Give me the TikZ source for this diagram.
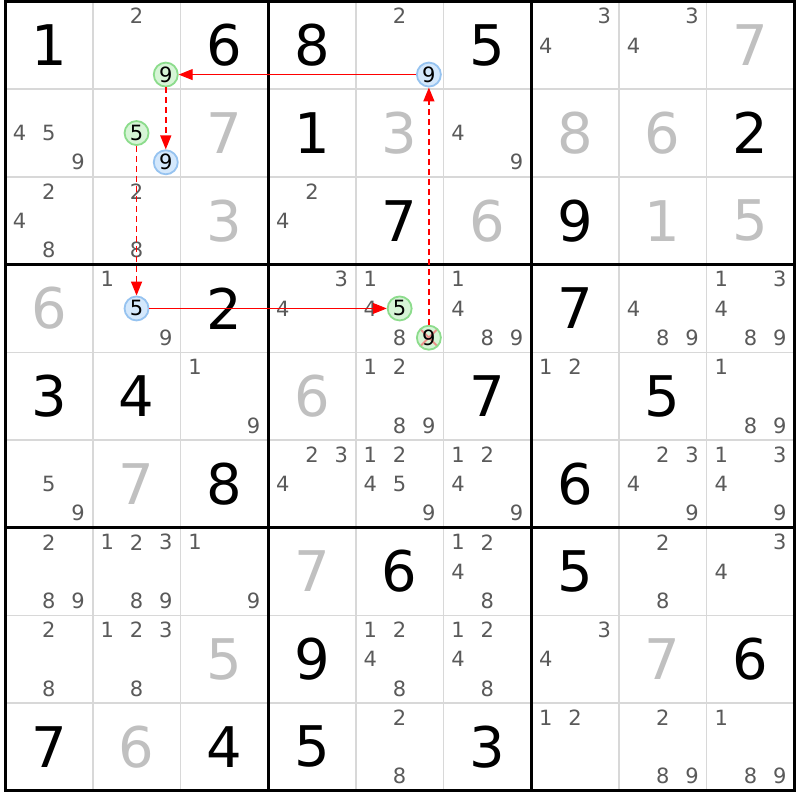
\documentclass[tikz,border=0pt]{standalone}
\usepackage{fontspec}
\setmainfont{DejaVu Sans}
\usetikzlibrary{arrows.meta}
\definecolor{solvedgray}{RGB}{192,192,192}
\definecolor{candgray}{RGB}{90,90,90}
\definecolor{gridgray}{RGB}{216,216,216}
\definecolor{bfill}{RGB}{212,232,252}
\definecolor{bline}{RGB}{150,195,240}
\definecolor{gfill}{RGB}{214,245,214}
\definecolor{gline}{RGB}{140,220,140}
\definecolor{xline}{RGB}{240,120,120}
\def\xo{5}
\def\yo{1.5}
\def\W{87.7}
\begin{document}
\begin{tikzpicture}[x=1pt,y=-1pt,
  bigdig/.style={font=\fontsize{56}{56}\selectfont, inner sep=0pt},
  givenval/.style={bigdig,text=black},
  solvedval/.style={bigdig,text=solvedgray},
  candval/.style={font=\fontsize{21}{21}\selectfont,text=candgray,inner sep=0pt},
  hl/.style={circle, minimum size=24pt, inner sep=0pt, line width=1.8pt,
    draw=#1line, fill=#1fill, font=\fontsize{21}{21}\selectfont, text=black},
  crossed/.style={path picture={
    \draw[xline, line width=2pt, opacity=0.8]
      (path picture bounding box.north west) -- (path picture bounding box.south east)
      (path picture bounding box.north east) -- (path picture bounding box.south west);}},
  strong/.style={red, line width=1pt, -{Triangle[length=14pt,width=11pt]}},
  weak/.style={red, line width=1.5pt, dash pattern=on 6pt off 4pt, -{Triangle[length=14pt,width=11pt]}},
  gridline/.style={draw=gridgray, line width=1.6pt},
  boxline/.style={draw=black, line width=3pt},
]
\useasboundingbox (0,0) rectangle (800,800);
\fill[white] (0,0) rectangle (800,800);
% thin grid lines
\foreach \i in {1,2,4,5,7,8}{
  \pgfmathsetmacro\p{\xo+\i*\W}
  \pgfmathsetmacro\q{\yo+\i*\W}
  \draw[gridline] (\p,\yo) -- (\p,{\yo+9*\W});
  \draw[gridline] (\xo,\q) -- ({\xo+9*\W},\q);
}
% thick box lines
\foreach \i in {3,6}{
  \pgfmathsetmacro\p{\xo+\i*\W}
  \pgfmathsetmacro\q{\yo+\i*\W}
  \draw[boxline] (\p,\yo) -- (\p,{\yo+9*\W});
  \draw[boxline] (\xo,\q) -- ({\xo+9*\W},\q);
}
\draw[boxline] (\xo,\yo) rectangle ({\xo+9*\W},{\yo+9*\W});
% given digits
\foreach \r/\c/\d in {1/1/1, 1/3/6, 1/4/8, 1/6/5, 2/4/1, 2/9/2, 3/5/7, 3/7/9,
  4/3/2, 4/7/7, 5/1/3, 5/2/4, 5/6/7, 5/8/5, 6/3/8, 6/7/6, 7/5/6, 7/7/5,
  8/4/9, 8/9/6, 9/1/7, 9/3/4, 9/4/5, 9/6/3}{
  \pgfmathsetmacro\px{\xo+(\c-0.5)*\W}
  \pgfmathsetmacro\py{\yo+(\r-0.5)*\W}
  \node[givenval] (g\r\c) at (\px,\py) {\d};
}
% solved digits
\foreach \r/\c/\d in {1/9/7, 2/3/7, 2/5/3, 2/7/8, 2/8/6, 3/3/3, 3/6/6, 3/8/1,
  3/9/5, 4/1/6, 5/4/6, 6/2/7, 7/4/7, 8/3/5, 8/8/7, 9/2/6}{
  \pgfmathsetmacro\px{\xo+(\c-0.5)*\W}
  \pgfmathsetmacro\py{\yo+(\r-0.5)*\W}
  \node[solvedval] (s\r\c) at (\px,\py) {\d};
}
% candidates
\foreach \r/\c/\L in {1/2/{2}, 1/5/{2}, 1/7/{3,4}, 1/8/{3,4},
  2/1/{4,5,9}, 2/6/{4,9},
  3/1/{2,4,8}, 3/2/{2,8}, 3/4/{2,4},
  4/2/{1,9}, 4/4/{3,4}, 4/5/{1,4,8}, 4/6/{1,4,8,9}, 4/8/{4,8,9}, 4/9/{1,3,4,8,9},
  5/3/{1,9}, 5/5/{1,2,8,9}, 5/7/{1,2}, 5/9/{1,8,9},
  6/1/{5,9}, 6/4/{2,3,4}, 6/5/{1,2,4,5,9}, 6/6/{1,2,4,9}, 6/8/{2,3,4,9}, 6/9/{1,3,4,9},
  7/1/{2,8,9}, 7/2/{1,2,3,8,9}, 7/3/{1,9}, 7/6/{1,2,4,8}, 7/8/{2,8}, 7/9/{3,4},
  8/1/{2,8}, 8/2/{1,2,3,8}, 8/5/{1,2,4,8}, 8/6/{1,2,4,8}, 8/7/{3,4},
  9/5/{2,8}, 9/7/{1,2}, 9/8/{2,8,9}, 9/9/{1,8,9}}{
  \foreach \d in \L {
    \pgfmathsetmacro\px{\xo+(\c-1)*\W+(mod(\d-1,3)+0.5)*\W/3}
    \pgfmathsetmacro\py{\yo+(\r-1)*\W+(floor((\d-1)/3)+0.5)*\W/3}
    \node[candval] (c\r\c\d) at (\px,\py) {\d};
  }
}
% highlighted candidates
\foreach \n/\r/\c/\d/\s in {h1/1/5/9/b, h2/1/2/9/g, h3/2/2/9/b, h4/2/2/5/g,
  h5/4/2/5/b, h6/4/5/5/g}{
  \pgfmathsetmacro\px{\xo+(\c-1)*\W+(mod(\d-1,3)+0.5)*\W/3}
  \pgfmathsetmacro\py{\yo+(\r-1)*\W+(floor((\d-1)/3)+0.5)*\W/3}
  \node[hl=\s] (\n) at (\px,\py) {\d};
}
\pgfmathsetmacro\px{\xo+4*\W+2.5*\W/3}
\pgfmathsetmacro\py{\yo+3*\W+2.5*\W/3}
\node[hl=g, crossed] (h7) at (\px,\py) {9};
% chain
\draw[strong] (h1) -- (h2);
\draw[weak] (h2) -- (h3);
\draw[weak] (h4) -- (h5);
\draw[strong] (h5) -- (h6);
\draw[weak] (h7) -- (h1);
\end{tikzpicture}
\end{document}
